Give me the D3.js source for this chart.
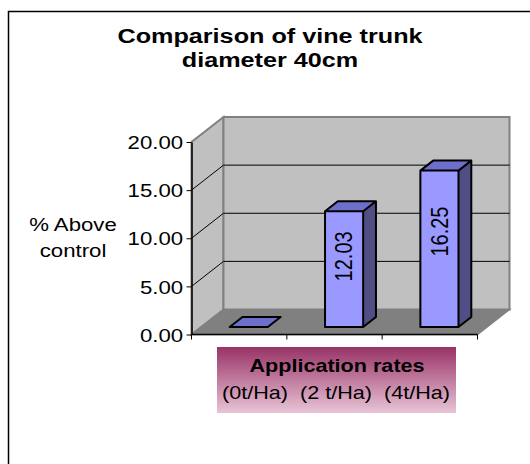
<!DOCTYPE html>
<meta charset="utf-8">
<style>
body { margin: 0; background: #fff; }
text { font-family: Arial, "Liberation Sans", sans-serif; fill: #000; }
</style>
<body>
<div id="chart"></div>
<script src="https://d3js.org/d3.v7.min.js"></script>
<script>
// data
var categories = ["(0t/Ha)", "(2 t/Ha)", "(4t/Ha)"];
var values = [0, 12.03, 16.25];
var yTicks = [0, 5, 10, 15, 20];
var titleLines = ["Comparison of vine trunk", "diameter 40cm"];
var yTitleLines = ["% Above", "control"];
var xTitle = "Application rates";

var width = 530, height = 464,
    SX = 1.2,                 // the original is stretched sideways a bit
    depth = {dx: 32, dy: -25}, // 3d wall offset
    barFront = 0.3, barDepth = 0.4;

var svg = d3.select("#chart").append("svg")
    .attr("width", width)
    .attr("height", height);

var defs = svg.append("defs");
var grad = defs.append("linearGradient")
    .attr("id", "titleGrad")
    .attr("x1", 0).attr("y1", 0).attr("x2", 0).attr("y2", 1);
grad.append("stop").attr("offset", "0%").attr("stop-color", "#993366");
grad.append("stop").attr("offset", "100%").attr("stop-color", "#E8C4D7");

// outer frame (cut off at the right and bottom)
svg.append("path")
    .attr("d", "M8.5," + height + "V11.5H" + width)
    .attr("fill", "none")
    .attr("stroke", "#000")
    .attr("stroke-width", 1.5);

var x = d3.scaleBand().domain(categories).range([191.5, 477.5]);
var y = d3.scaleLinear().domain([0, 20]).range([334.5, 142]);

var x0 = x.range()[0], x1 = x.range()[1],
    yb = y(0), yt = y(20);

function stretched(sel, px, py, rot) {
  return sel.attr("transform", "translate(" + px + "," + py + ") scale(" + SX + ",1)" + (rot ? " rotate(" + rot + ")" : ""));
}

// walls
var walls = svg.append("g");
// floor
walls.append("path")
    .attr("d", "M" + x0 + "," + yb + "L" + (x0 + depth.dx) + "," + (yb + depth.dy) +
               "L" + (x1 + depth.dx) + "," + (yb + depth.dy) + "L" + x1 + "," + yb + "Z")
    .attr("fill", "#808080")
    .attr("stroke", "#808080")
    .attr("stroke-width", 1.5);
// side wall
walls.append("path")
    .attr("d", "M" + x0 + "," + yb + "L" + x0 + "," + yt + "L" + (x0 + depth.dx) + "," + (yt + depth.dy) +
               "L" + (x0 + depth.dx) + "," + (yb + depth.dy) + "Z")
    .attr("fill", "#C0C0C0")
    .attr("stroke", "#808080")
    .attr("stroke-width", 2);
// back wall
walls.append("rect")
    .attr("x", x0 + depth.dx)
    .attr("y", yt + depth.dy)
    .attr("width", x1 - x0)
    .attr("height", yb - yt)
    .attr("fill", "#C0C0C0")
    .attr("stroke", "#808080")
    .attr("stroke-width", 2);

// gridlines
var grid = yTicks.filter(function(d) { return d > 0 && d < 20; });
walls.selectAll(".grid")
    .data(grid)
    .enter().append("path")
    .attr("class", "grid")
    .attr("d", function(d) {
      return "M" + x0 + "," + y(d) + "L" + (x0 + depth.dx) + "," + (y(d) + depth.dy) + "H" + (x1 + depth.dx);
    })
    .attr("fill", "none")
    .attr("stroke", "#000")
    .attr("stroke-width", 1);

// bars
var bw = x.bandwidth() / 2.5;
var fdx = depth.dx * barFront, fdy = depth.dy * barFront,
    ddx = depth.dx * barDepth, ddy = depth.dy * barDepth;

var bars = svg.selectAll(".bar")
    .data(categories.map(function(c, i) { return {cat: c, v: values[i]}; }))
    .enter().append("g")
    .attr("class", "bar");

bars.each(function(d) {
  var g = d3.select(this);
  var left = x(d.cat) + x.bandwidth() / 2 - bw / 2 + fdx,
      right = left + bw,
      top = y(d.v) + fdy,
      bot = y(0) + fdy;
  if (d.v > 0) {
    g.append("path")
      .attr("d", "M" + right + "," + top + "L" + (right + ddx) + "," + (top + ddy) +
                 "L" + (right + ddx) + "," + (bot + ddy) + "L" + right + "," + bot + "Z")
      .attr("fill", "#4F4F86");
    g.append("rect")
      .attr("x", left).attr("y", top)
      .attr("width", bw).attr("height", bot - top)
      .attr("fill", "#9999FF");
  }
  g.append("path")
    .attr("d", "M" + left + "," + top + "L" + (left + ddx) + "," + (top + ddy) +
               "L" + (right + ddx) + "," + (top + ddy) + "L" + right + "," + top + "Z")
    .attr("fill", "#6E6ECB");
  // outline
  var outline = d.v > 0
    ? "M" + left + "," + bot + "V" + top + "L" + (left + ddx) + "," + (top + ddy) + "H" + (right + ddx) +
      "V" + (bot + ddy) + "L" + right + "," + bot + "Z" +
      "M" + left + "," + top + "H" + right + "V" + bot +
      "M" + right + "," + top + "L" + (right + ddx) + "," + (top + ddy)
    : "M" + left + "," + top + "L" + (left + ddx) + "," + (top + ddy) +
      "H" + (right + ddx) + "L" + right + "," + top + "Z";
  g.append("path")
    .attr("d", outline)
    .attr("fill", "none")
    .attr("stroke", "#000")
    .attr("stroke-width", 2)
    .attr("stroke-linejoin", "round");
  if (d.v > 0) {
    stretched(g.append("text"), left + bw / 2, y(d.v * 0.61) + fdy, -90)
      .attr("text-anchor", "middle")
      .attr("dominant-baseline", "central")
      .attr("font-size", 20)
      .text(d3.format(".2f")(d.v));
  }
});

// y axis
var yAxis = d3.axisLeft(y)
    .tickValues(yTicks)
    .tickFormat(d3.format(".2f"))
    .tickSize(5)
    .tickSizeOuter(0);
var gy = svg.append("g")
    .attr("transform", "translate(" + x0 + ",0)")
    .call(yAxis);
gy.select(".domain").attr("stroke", "#000").attr("stroke-width", 1.5);
gy.selectAll("line").attr("stroke", "#000");
gy.selectAll("text")
    .attr("x", -7)
    .attr("dy", "0.36em")
    .attr("transform", "scale(" + SX + ",1)")
    .attr("font-family", "Arial, 'Liberation Sans', sans-serif")
    .attr("font-size", 18.5)
    .attr("fill", "#000");

// x axis: line plus ticks on the category edges
var gx = svg.append("g");
gx.append("line")
    .attr("x1", x0).attr("x2", x1)
    .attr("y1", yb).attr("y2", yb)
    .attr("stroke", "#000").attr("stroke-width", 1.5);
gx.selectAll(".xtick")
    .data(categories.map(function(c) { return x(c); }).concat([x1]))
    .enter().append("line")
    .attr("class", "xtick")
    .attr("x1", function(d) { return d; }).attr("x2", function(d) { return d; })
    .attr("y1", yb).attr("y2", yb + 5)
    .attr("stroke", "#000");

// titles
svg.selectAll(".title")
    .data(titleLines)
    .enter().append("text")
    .attr("class", "title")
    .each(function(d, i) { stretched(d3.select(this), 270, 43 + i * 24); })
    .attr("text-anchor", "middle")
    .attr("font-size", 21)
    .attr("font-weight", "bold")
    .text(function(d) { return d; });

svg.selectAll(".ytitle")
    .data(yTitleLines)
    .enter().append("text")
    .attr("class", "ytitle")
    .each(function(d, i) { stretched(d3.select(this), 73, 231 + i * 26); })
    .attr("text-anchor", "middle")
    .attr("font-size", 18.5)
    .text(function(d) { return d; });

svg.append("rect")
    .attr("x", 217).attr("y", 347)
    .attr("width", 239).attr("height", 66)
    .attr("fill", "url(#titleGrad)");

stretched(svg.append("text"), 337, 371.5)
    .attr("text-anchor", "middle")
    .attr("font-size", 18)
    .attr("font-weight", "bold")
    .text(xTitle);

stretched(svg.append("text"), 336, 399)
    .attr("text-anchor", "middle")
    .attr("font-size", 18)
    .attr("xml:space", "preserve")
    .style("white-space", "pre")
    .text(categories.join("  "));
</script>
</body>
